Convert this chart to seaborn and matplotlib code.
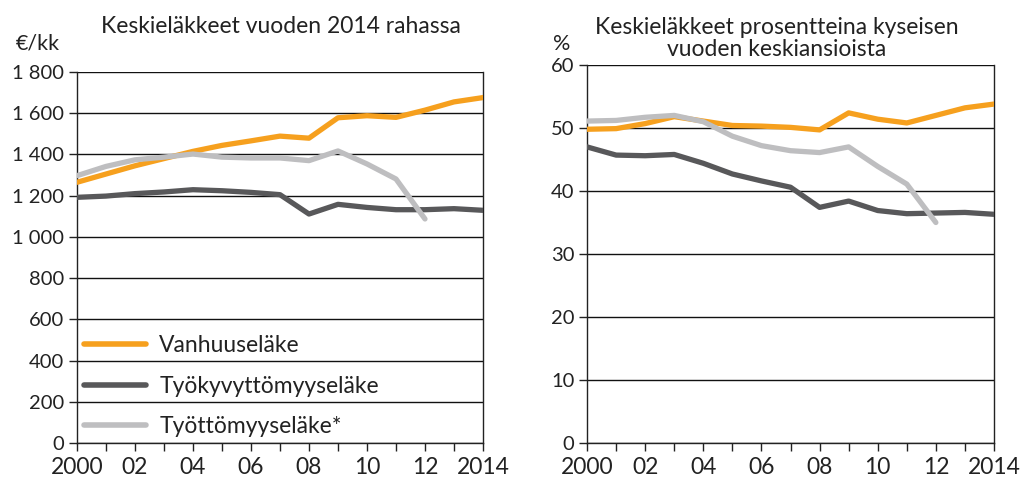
import numpy as np
import pandas as pd
import seaborn as sns
import matplotlib.pyplot as plt

years = list(range(2000, 2015))

# Keskieläkkeet vuoden 2014 rahassa (€/kk)
vanhuus_eur = [1265, 1305, 1345, 1380, 1415, 1444, 1466, 1489, 1479, 1578, 1588, 1580, 1615, 1655, 1676]
tyokyvyt_eur = [1192, 1198, 1210, 1218, 1229, 1224, 1216, 1205, 1111, 1158, 1143, 1132, 1132, 1137, 1129]
tyottomyys_eur = [1297, 1342, 1374, 1387, 1402, 1387, 1383, 1383, 1370, 1417, 1354, 1281, 1087]

# Keskieläkkeet prosentteina keskiansioista (%)
vanhuus_pct = [49.8, 49.9, 50.7, 51.8, 51.1, 50.4, 50.3, 50.1, 49.7, 52.4, 51.4, 50.8, 52.0, 53.2, 53.8]
tyokyvyt_pct = [47.0, 45.7, 45.6, 45.8, 44.4, 42.7, 41.6, 40.6, 37.4, 38.4, 36.9, 36.4, 36.5, 36.6, 36.3]
tyottomyys_pct = [51.1, 51.2, 51.7, 52.0, 51.0, 48.7, 47.2, 46.4, 46.1, 47.0, 43.9, 41.1, 35.0]

labels = ["Vanhuuseläke", "Työkyvyttömyyseläke", "Työttömyyseläke*"]
colors = ["#F6A01E", "#58585A", "#BEBEC0"]
xtick_labels = ["2000", "02", "04", "06", "08", "10", "12", "2014"]
eur_ticks = list(range(0, 1801, 200))
eur_tick_labels = ["0", "200", "400", "600", "800", "1 000", "1 200", "1 400", "1 600", "1 800"]
pct_ticks = list(range(0, 61, 10))


def long_df(series):
    rows = []
    for lab, vals in zip(labels, series):
        for y, v in zip(years, vals):
            rows.append({"vuosi": y, "arvo": v, "laji": lab})
    return pd.DataFrame(rows)


df_eur = long_df([vanhuus_eur, tyokyvyt_eur, tyottomyys_eur])
df_pct = long_df([vanhuus_pct, tyokyvyt_pct, tyottomyys_pct])

sns.set_style("white")
plt.rcParams['font.family'] = ['Lato', 'DejaVu Sans']

fig = plt.figure(figsize=(10.22, 4.84), dpi=100)
ax1 = fig.add_axes([0.0753, 0.0847, 0.3973, 0.7665])
ax2 = fig.add_axes([0.5744, 0.0847, 0.3982, 0.7810])

palette = dict(zip(labels, colors))
for ax, df in [(ax1, df_eur), (ax2, df_pct)]:
    sns.lineplot(data=df, x="vuosi", y="arvo", hue="laji", palette=palette,
                 linewidth=3.8, ax=ax, legend=(ax is ax1), zorder=3)
    ax.set_xlim(2000, 2014)
    ax.set_xticks(years, minor=True)
    ax.set_xticks([2000, 2002, 2004, 2006, 2008, 2010, 2012, 2014])
    ax.set_xticklabels(xtick_labels, fontsize=16.5, color="#222222")
    ax.tick_params(axis="x", which="both", direction="out", length=6, width=1, color="#222222", bottom=True, pad=4)
    ax.tick_params(axis="y", direction="out", length=6, width=1, color="#222222", left=True, labelsize=14.5, labelcolor="#222222", pad=3)
    ax.grid(axis="y", color="#111111", linewidth=1)
    ax.set_xlabel("")
    ax.set_ylabel("")
    for s in ax.spines.values():
        s.set_visible(True)
        s.set_color("#222222")
        s.set_linewidth(1)
    ax.spines["top"].set_visible(False)

ax1.set_ylim(0, 1800)
ax1.set_yticks(eur_ticks)
ax1.set_yticklabels(eur_tick_labels)
ax2.set_ylim(0, 60)
ax2.set_yticks(pct_ticks)

leg = ax1.legend(loc="lower left", bbox_to_anchor=(-0.02, -0.024), frameon=False, fontsize=16.5,
                 handlelength=2.7, handletextpad=0.6, labelspacing=0.85, borderaxespad=0.25)
for line in leg.get_lines():
    line.set_linewidth(4)
for t in leg.get_texts():
    t.set_color("#222222")

fig.text(0.275, 0.945, "Keskieläkkeet vuoden 2014 rahassa", ha="center", va="center", fontsize=16.5, color="#222222")
fig.text(0.015, 0.91, "€/kk", ha="left", va="center", fontsize=15.5, color="#222222")
fig.text(0.76, 0.92, "Keskieläkkeet prosentteina kyseisen\nvuoden keskiansioista", ha="center", va="center",
         fontsize=16.5, color="#222222", linespacing=1.05)
fig.text(0.541, 0.91, "%", ha="left", va="center", fontsize=15.5, color="#222222")

fig.savefig("out.png", dpi=100)
